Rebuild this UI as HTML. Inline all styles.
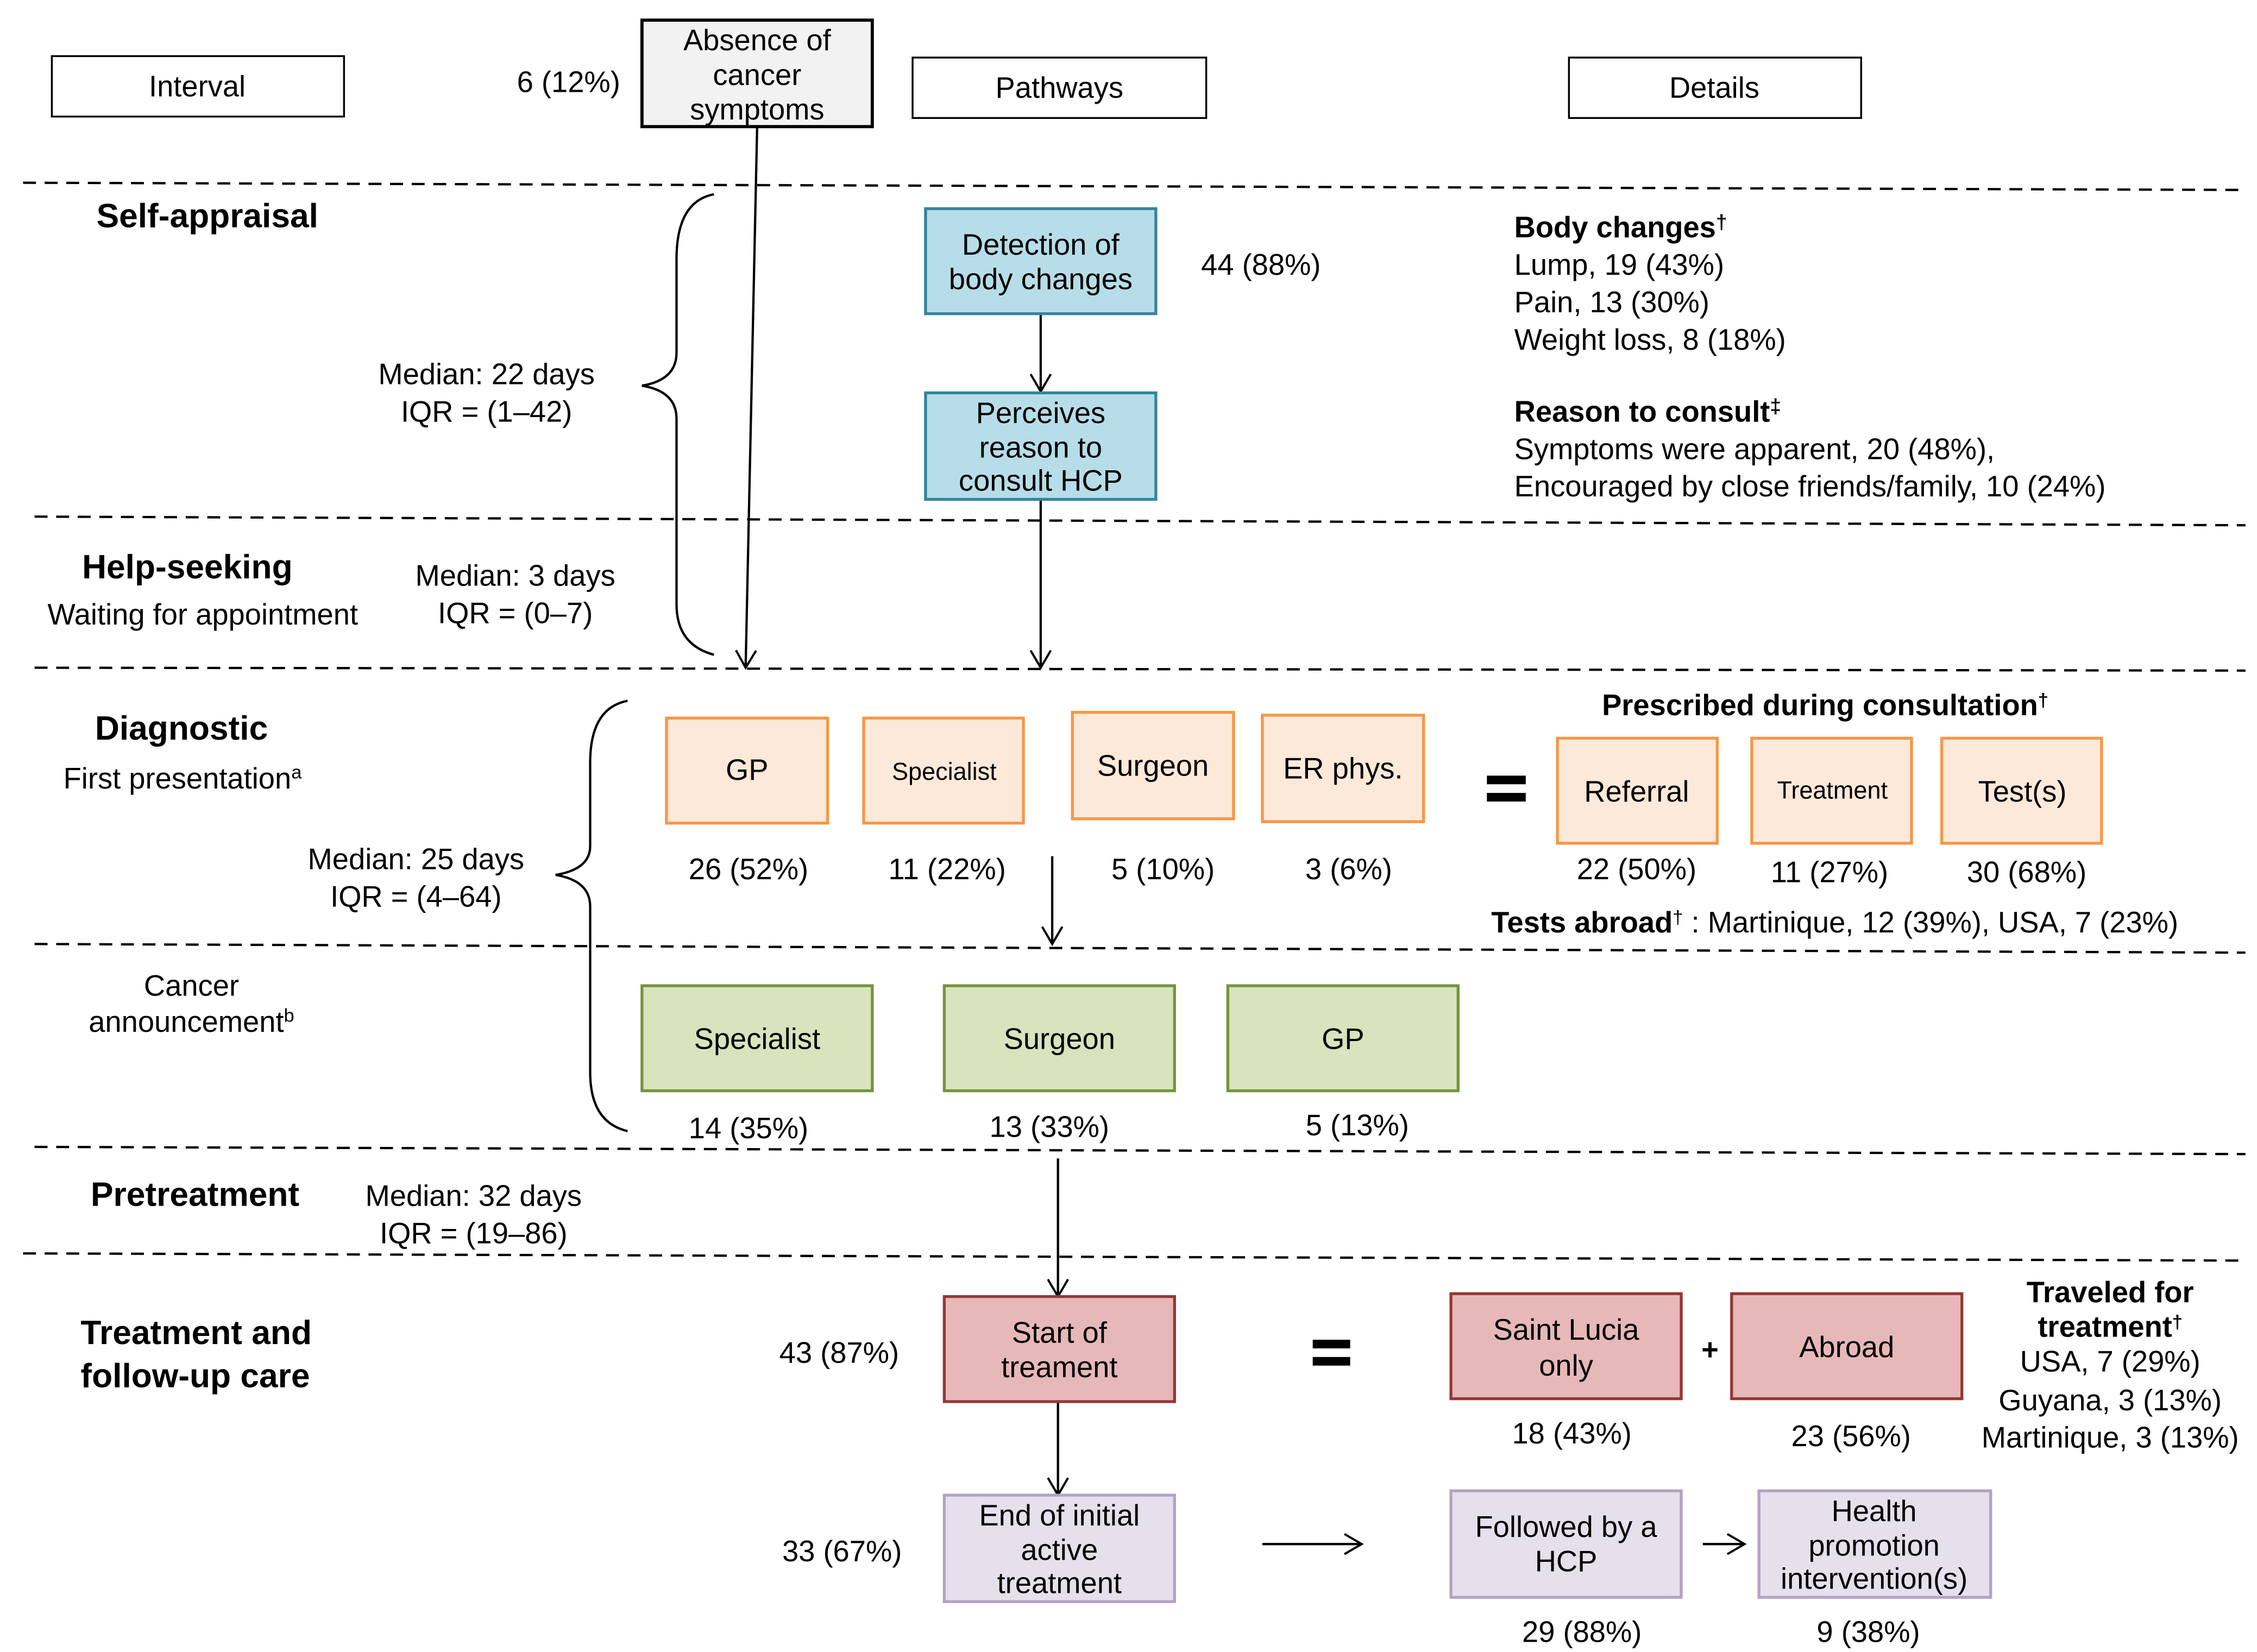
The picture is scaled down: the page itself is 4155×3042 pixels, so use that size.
<!DOCTYPE html>
<html><head><meta charset="utf-8"><style>
html,body{margin:0;padding:0;background:#fff;}
svg{display:block;}
text{font-family:"Liberation Sans",Arial,sans-serif;font-size:20.5px;fill:#000;}
.b{font-weight:bold;font-size:23.5px;}
.bs{font-weight:bold;font-size:20.5px;}
.c{text-anchor:middle;}
.s{font-size:17px;}
</style></head><body>
<svg width="4155" height="3042" viewBox="0 0 1568 1148" xmlns="http://www.w3.org/2000/svg">
<defs>
<marker id="a" markerWidth="16" markerHeight="16" refX="14" refY="8" orient="auto" markerUnits="userSpaceOnUse" viewBox="0 0 16 16">
<polyline points="2,1 14,8 2,15" fill="none" stroke="#000" stroke-width="1.5"/>
</marker>
</defs>
<rect width="1568" height="1148" fill="#fff"/>
<g stroke="#000" stroke-width="1.6" stroke-dasharray="9,6" fill="none">
<line x1="16" y1="127" x2="1560" y2="132"/>
<line x1="24" y1="359" x2="1560" y2="365"/>
<line x1="24" y1="464" x2="1560" y2="466"/>
<line x1="24" y1="656" x2="1560" y2="662"/>
<line x1="24" y1="797" x2="1560" y2="802"/>
<line x1="16" y1="871" x2="1560" y2="876"/>
</g>
<g fill="#fff" stroke="#000" stroke-width="1.3">
<rect x="36" y="39" width="203" height="42"/>
<rect x="634" y="40" width="204" height="42"/>
<rect x="1090" y="40" width="203" height="42"/>
</g>
<rect x="446" y="14" width="160" height="74" fill="#f2f2f2" stroke="#000" stroke-width="2.2"/>
<text class="c" x="137" y="67">Interval</text>
<text class="c" x="736" y="68">Pathways</text>
<text class="c" x="1191" y="68">Details</text>
<text class="c" x="526" y="35">Absence of</text>
<text class="c" x="526" y="59">cancer</text>
<text class="c" x="526" y="83">symptoms</text>
<text class="c" x="395" y="64">6 (12%)</text>

<g fill="none" stroke="#000" stroke-width="1.6">
<path d="M496,135 Q470,140 470,180 L470,245 Q470,264 446,268 Q470,272 470,291 L470,420 Q470,448 496,455"/>
<path d="M436,487 Q410,492 410,530 L410,588 Q410,604 386,608 Q410,612 410,630 L410,745 Q410,780 436,786"/>
</g>

<g stroke="#000" stroke-width="1.6">
<line x1="526" y1="88" x2="518" y2="464" marker-end="url(#a)"/>
<line x1="723" y1="218" x2="723" y2="272" marker-end="url(#a)"/>
<line x1="723" y1="347" x2="723" y2="464" marker-end="url(#a)"/>
<line x1="731" y1="595" x2="731" y2="656" marker-end="url(#a)"/>
<line x1="735" y1="805" x2="735" y2="901" marker-end="url(#a)"/>
<line x1="735" y1="974" x2="735" y2="1039" marker-end="url(#a)"/>
<line x1="877" y1="1073" x2="946" y2="1073" marker-end="url(#a)"/>
<line x1="1183" y1="1073" x2="1212" y2="1073" marker-end="url(#a)"/>
</g>

<text class="b" x="67" y="158">Self-appraisal</text>
<text class="c" x="338" y="267">Median: 22 days</text>
<text class="c" x="338" y="293">IQR = (1–42)</text>
<text class="b" x="57" y="402">Help-seeking</text>
<text x="33" y="434">Waiting for appointment</text>
<text class="c" x="358" y="407">Median: 3 days</text>
<text class="c" x="358" y="433">IQR = (0–7)</text>
<text class="b" x="66" y="514">Diagnostic</text>
<text x="44" y="548">First presentation<tspan font-size="13" dy="-7">a</tspan></text>
<text class="c" x="289" y="604">Median: 25 days</text>
<text class="c" x="289" y="630">IQR = (4–64)</text>
<text class="c" x="133" y="692">Cancer</text>
<text class="c" x="133" y="717">announcement<tspan font-size="13" dy="-7">b</tspan></text>
<text class="b" x="63" y="838">Pretreatment</text>
<text class="c" x="329" y="838">Median: 32 days</text>
<text class="c" x="329" y="864">IQR = (19–86)</text>
<text class="b" x="56" y="934">Treatment and</text>
<text class="b" x="56" y="964">follow-up care</text>

<g fill="#b7dde8" stroke="#31859c" stroke-width="2">
<rect x="643" y="145" width="160" height="73"/>
<rect x="643" y="273" width="160" height="74"/>
</g>
<text class="c" x="723" y="177">Detection of</text>
<text class="c" x="723" y="201">body changes</text>
<text class="c" x="723" y="294">Perceives</text>
<text class="c" x="723" y="318">reason to</text>
<text class="c" x="723" y="341">consult HCP</text>
<text class="c" x="876" y="191">44 (88%)</text>

<text class="bs" x="1052" y="165">Body changes<tspan font-size="14" dy="-6">†</tspan></text>
<text x="1052" y="191">Lump, 19 (43%)</text>
<text x="1052" y="217">Pain, 13 (30%)</text>
<text x="1052" y="243">Weight loss, 8 (18%)</text>
<text class="bs" x="1052" y="293">Reason to consult<tspan font-size="14" dy="-6">‡</tspan></text>
<text x="1052" y="319">Symptoms were apparent, 20 (48%),</text>
<text x="1052" y="345">Encouraged by close friends/family, 10 (24%)</text>

<g fill="#fde9d9" stroke="#f79646" stroke-width="2">
<rect x="463" y="499" width="112" height="73"/>
<rect x="600" y="499" width="111" height="73"/>
<rect x="745" y="495" width="112" height="74"/>
<rect x="877" y="497" width="112" height="74"/>
<rect x="1082" y="513" width="111" height="73"/>
<rect x="1217" y="513" width="111" height="73"/>
<rect x="1349" y="513" width="111" height="73"/>
</g>
<text class="c" x="519" y="542">GP</text>
<text class="c s" x="656" y="542">Specialist</text>
<text class="c" x="801" y="539">Surgeon</text>
<text class="c" x="933" y="541">ER phys.</text>
<text class="c" x="1137" y="557">Referral</text>
<text class="c s" x="1273" y="555">Treatment</text>
<text class="c" x="1405" y="557">Test(s)</text>
<rect x="1033" y="539" width="27" height="6" fill="#000"/>
<rect x="1033" y="551" width="27" height="6" fill="#000"/>
<text class="c" x="520" y="611">26 (52%)</text>
<text class="c" x="658" y="611">11 (22%)</text>
<text class="c" x="808" y="611">5 (10%)</text>
<text class="c" x="937" y="611">3 (6%)</text>
<text class="c" x="1137" y="611">22 (50%)</text>
<text class="c" x="1271" y="613">11 (27%)</text>
<text class="c" x="1408" y="613">30 (68%)</text>
<text class="bs c" x="1268" y="497" font-size="19">Prescribed during consultation<tspan font-size="13" dy="-6">†</tspan></text>
<text x="1036" y="648"><tspan font-weight="bold">Tests abroad</tspan><tspan font-size="13" dy="-6">†</tspan><tspan dy="6"> : Martinique, 12 (39%), USA, 7 (23%)</tspan></text>

<g fill="#d7e4bd" stroke="#77933c" stroke-width="2">
<rect x="446" y="685" width="160" height="73"/>
<rect x="656" y="685" width="160" height="73"/>
<rect x="853" y="685" width="160" height="73"/>
</g>
<text class="c" x="526" y="729">Specialist</text>
<text class="c" x="736" y="729">Surgeon</text>
<text class="c" x="933" y="729">GP</text>
<text class="c" x="520" y="791">14 (35%)</text>
<text class="c" x="729" y="790">13 (33%)</text>
<text class="c" x="943" y="789">5 (13%)</text>

<g fill="#e6b9b8" stroke="#953735" stroke-width="2">
<rect x="656" y="901" width="160" height="73"/>
<rect x="1008" y="899" width="160" height="73"/>
<rect x="1203" y="899" width="160" height="73"/>
</g>
<text class="c" x="736" y="933">Start of</text>
<text class="c" x="736" y="957">treament</text>
<text class="c" x="1088" y="931">Saint Lucia</text>
<text class="c" x="1088" y="956">only</text>
<text class="c" x="1283" y="943">Abroad</text>
<text class="c" x="583" y="947">43 (87%)</text>
<rect x="912" y="931" width="26" height="6" fill="#000"/>
<rect x="912" y="943" width="26" height="6" fill="#000"/>
<text class="c bs" x="1188" y="945" font-size="24">+</text>
<text class="c" x="1092" y="1003">18 (43%)</text>
<text class="c" x="1286" y="1005">23 (56%)</text>
<text class="c bs" x="1466" y="905">Traveled for</text>
<text class="c bs" x="1466" y="929">treatment<tspan font-size="13" dy="-6">†</tspan></text>
<text class="c" x="1466" y="953">USA, 7 (29%)</text>
<text class="c" x="1466" y="980">Guyana, 3 (13%)</text>
<text class="c" x="1466" y="1006">Martinique, 3 (13%)</text>

<g fill="#e5e0ec" stroke="#b3a2c7" stroke-width="2">
<rect x="656" y="1039" width="160" height="74"/>
<rect x="1008" y="1036" width="160" height="74"/>
<rect x="1222" y="1036" width="161" height="74"/>
</g>
<text class="c" x="736" y="1060">End of initial</text>
<text class="c" x="736" y="1084">active</text>
<text class="c" x="736" y="1107">treatment</text>
<text class="c" x="585" y="1085">33 (67%)</text>
<text class="c" x="1088" y="1068">Followed by a</text>
<text class="c" x="1088" y="1092">HCP</text>
<text class="c" x="1302" y="1057">Health</text>
<text class="c" x="1302" y="1081">promotion</text>
<text class="c" x="1302" y="1104">intervention(s)</text>
<text class="c" x="1099" y="1141">29 (88%)</text>
<text class="c" x="1298" y="1141">9 (38%)</text>
</svg>
</body></html>
